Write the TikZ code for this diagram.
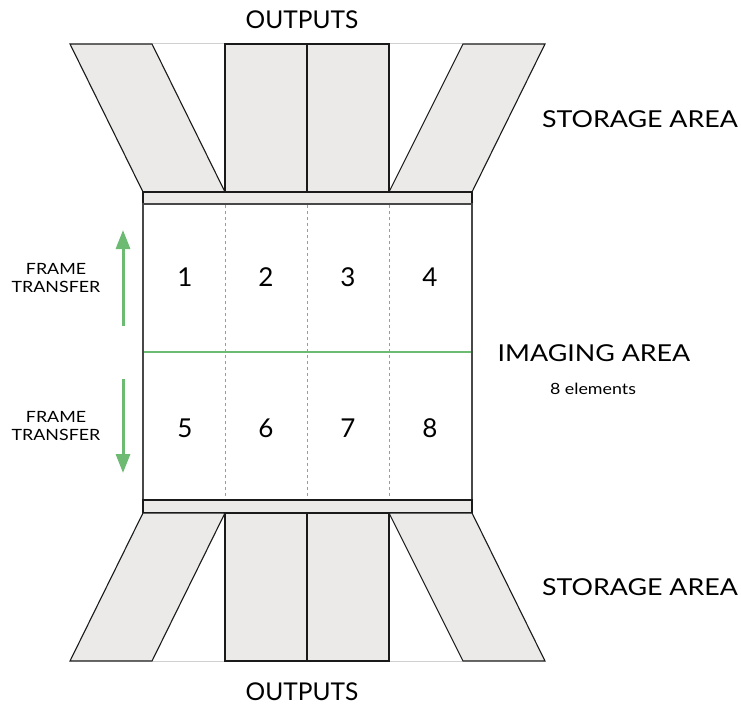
\documentclass[tikz,border=0pt]{standalone}
\usepackage{fontspec}
\setmainfont{Lato}
\newfontfamily\widefont[FakeStretch=1.15]{Lato}
\usetikzlibrary{arrows.meta}
\definecolor{panel}{HTML}{EBEAE8}
\definecolor{tgreen}{HTML}{6DBB72}
\definecolor{edge}{HTML}{1A1A1A}
\definecolor{faint}{HTML}{D0D0D0}
\tikzset{
  part/.style={fill=panel,draw=edge,line width=1.1pt,line join=miter},
  gap/.style={draw=faint,line width=1pt},
  divider/.style={draw=tgreen,line width=0.8pt,dash pattern=on 3pt off 3pt},
  xferarrow/.style={draw=tgreen,line width=3pt,-{Triangle[length=19pt,width=14pt]}},
  outtext/.style={font=\fontsize{24.5}{27}\selectfont,inner sep=0pt},
  bigtext/.style={font=\widefont\fontsize{23.3}{26}\selectfont,inner sep=0pt},
  numtext/.style={font=\fontsize{26}{28}\selectfont,inner sep=0pt},
  smalltext/.style={font=\widefont\fontsize{15.5}{18}\selectfont,inner sep=0pt,align=center},
}
\begin{document}
\begin{tikzpicture}[x=1pt,y=-1pt]
\useasboundingbox (0,0) rectangle (741,709);
% top storage
\draw[gap] (152,44) -- (225,44);
\draw[gap] (389,44) -- (463,44);
\draw[part] (70,44) -- (152,44) -- (225,192) -- (143,192) -- cycle;
\draw[part] (225,44) rectangle (307,192);
\draw[part] (307,44) rectangle (389,192);
\draw[part] (463,44) -- (545,44) -- (472,192) -- (389,192) -- cycle;
\draw[part] (143,192) rectangle (472,204);
% imaging area
\draw[fill=white,draw=edge!80,line width=1.1pt] (143,204) rectangle (472,500);
\foreach \x in {225,307,389} \draw[divider] (\x,205) -- (\x,499);
\draw[draw=tgreen,line width=2.5pt] (144,352) -- (471,352);
% bottom storage
\draw[gap] (152,661) -- (225,661);
\draw[gap] (389,661) -- (463,661);
\draw[part] (143,500) rectangle (472,513);
\draw[part] (143,513) -- (225,513) -- (152,661) -- (70,661) -- cycle;
\draw[part] (225,513) rectangle (307,661);
\draw[part] (307,513) rectangle (389,661);
\draw[part] (389,513) -- (472,513) -- (545,661) -- (463,661) -- cycle;
% numbers
\node[numtext] (n1) at (185,277) {1};
\node[numtext] (n2) at (266,277) {2};
\node[numtext] (n3) at (348,277) {3};
\node[numtext] (n4) at (430,277) {4};
\node[numtext] (n5) at (185,428) {5};
\node[numtext] (n6) at (266,428) {6};
\node[numtext] (n7) at (348,428) {7};
\node[numtext] (n8) at (430,428) {8};
% arrows
\coordinate (u0) at (123,326);
\coordinate (u1) at (123,230);
\coordinate (d0) at (123,379);
\coordinate (d1) at (123,473);
\draw[xferarrow] (u0) -- (u1);
\draw[xferarrow] (d0) -- (d1);
% labels
\node[outtext] (outtop) at (302,20) {OUTPUTS};
\node[outtext] (outbot) at (302,692) {OUTPUTS};
\node[bigtext] (stortop) at (640,119) {STORAGE AREA};
\node[bigtext] (storbot) at (640,587) {STORAGE AREA};
\node[bigtext] (img) at (594,353) {IMAGING AREA};
\node[smalltext] (elem) at (593,389) {8 elements};
\node[smalltext] (ft1) at (56,278) {FRAME\\TRANSFER};
\node[smalltext] (ft2) at (56,426) {FRAME\\TRANSFER};
\end{tikzpicture}
\end{document}
